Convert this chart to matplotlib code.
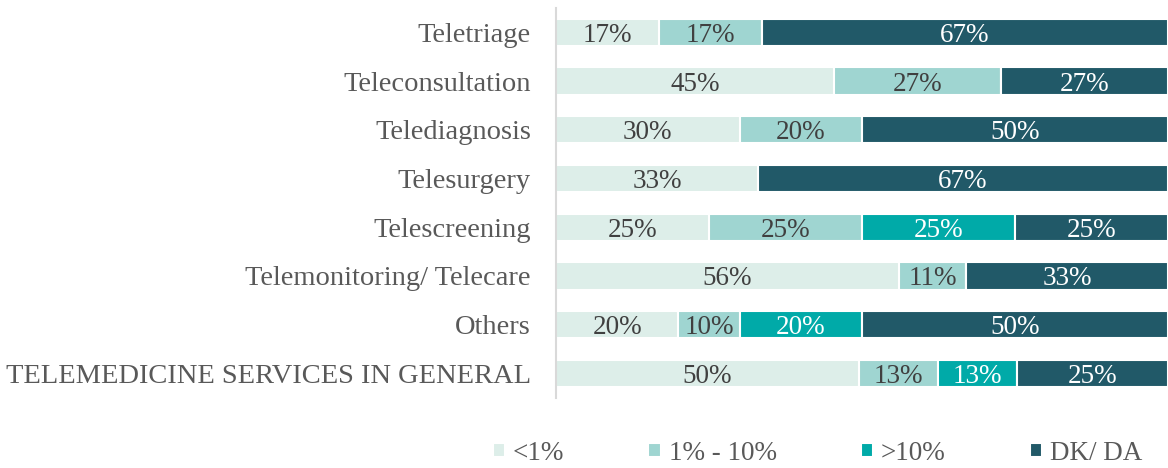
import numpy as np
import matplotlib.pyplot as plt

categories = ['Teletriage', 'Teleconsultation', 'Telediagnosis', 'Telesurgery',
              'Telescreening', 'Telemonitoring/ Telecare', 'Others',
              'TELEMEDICINE SERVICES IN GENERAL']
series = ['<1%', '1% - 10%', '>10%', 'DK/ DA']
below_1 = [17, 45, 30, 33, 25, 56, 20, 50]
from_1_to_10 = [17, 27, 20, 0, 25, 11, 10, 13]
above_10 = [0, 0, 0, 0, 25, 0, 20, 13]
dk_da = [67, 27, 50, 67, 25, 33, 50, 25]

colors = ['#ddeee9', '#9fd5d1', '#00aaa8', '#215968']
text_colors = ['#404040', '#404040', 'white', 'white']

plt.rcParams['font.family'] = ['Liberation Serif', 'DejaVu Serif']

fig = plt.figure(figsize=(11.68, 4.68), dpi=100)
ax = fig.add_axes([0.476, 0.150, 0.524, 0.833])

data = np.array([below_1, from_1_to_10, above_10, dk_da], dtype=float)
# 100% stacked: each row scaled to fill the full width
shares = data / data.sum(axis=0) * 100

y = np.arange(len(categories))
left = np.zeros(len(categories))
for vals, widths, name, c, tc in zip(data, shares, series, colors, text_colors):
    bars = ax.barh(y, widths, left=left, height=0.56, color=c, edgecolor='white',
                   linewidth=1.5, label=name)
    for b, v in zip(bars, vals):
        if v > 0:
            ax.text(b.get_x() + b.get_width() / 2, b.get_y() + b.get_height() / 2,
                    f'{int(v)}%', ha='center', va='center_baseline',
                    fontsize=19.5, color=tc)
    left += widths

ax.set_xlim(0, 100)
ax.set_ylim(len(categories) - 0.5, -0.5)
ax.set_yticks(y)
ax.set_yticklabels(categories, fontsize=20.5, color='#595959')
ax.tick_params(axis='y', length=0, pad=18)
ax.set_xticks([])
for s in ['top', 'right', 'bottom']:
    ax.spines[s].set_visible(False)
ax.spines['left'].set_color('#d9d9d9')
ax.spines['left'].set_linewidth(1.5)

fig.legend(loc='center', bbox_to_anchor=(0.70, 0.032), ncol=4, frameon=False,
           fontsize=19.5, handlelength=0.45, handleheight=0.45, handletextpad=0.3,
           columnspacing=3.1, labelcolor='#595959')

fig.savefig('out.png', dpi=100)
